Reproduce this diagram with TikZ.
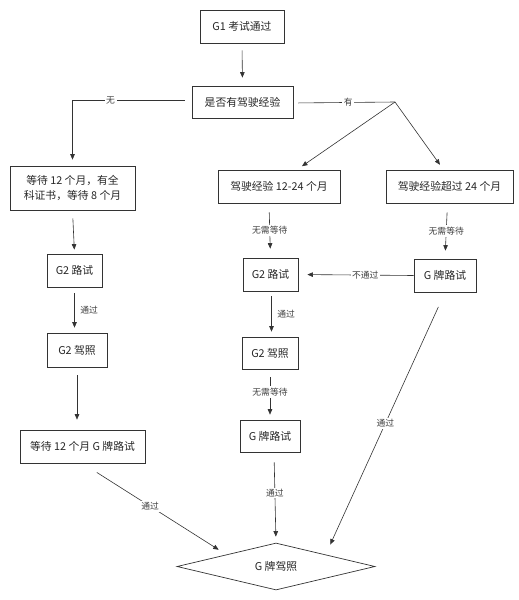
\documentclass[tikz,border=0pt]{standalone}
\usepackage{fontspec}
\setmainfont{Noto Sans CJK SC}
\usetikzlibrary{arrows.meta,shapes.geometric,calc}
\tikzset{
  box/.style={draw=black!80, line width=0.7pt, minimum height=33pt, inner sep=0pt, text=black!85, font=\fontsize{10.8}{15}\selectfont},
  lbl/.style={fill=white, inner sep=1.5pt, text=black!75, font=\fontsize{8.8}{10}\selectfont},
  arr/.style={draw=black!80, line width=0.6pt, -{Triangle[length=5.5pt,width=4.5pt]}},
  ln/.style={draw=black!80, line width=0.6pt}
}
\begin{document}
\begin{tikzpicture}[x=1pt,y=-1pt]
\useasboundingbox (0,0) rectangle (519,600);
% boxes
\node[box, minimum width=84pt] (g1) at (242,26.5) {G1 考试通过};
\node[box, minimum width=101pt, minimum height=32pt] (q) at (242.5,102) {是否有驾驶经验};
\node[box, minimum width=125pt, minimum height=44pt, align=center] (wl) at (72.5,188) {等待 12 个月，有全\\科证书，等待 8 个月};
\node[box, minimum width=55pt] (g2l) at (74.5,270.5) {G2 路试};
\node[box, minimum width=60pt, minimum height=34pt] (licl) at (77,350) {G2 驾照};
\node[box, minimum width=125pt] (wgl) at (82.5,446.5) {等待 12 个月 G 牌路试};
\node[box, minimum width=122pt] (m1) at (279,186.5) {驾驶经验 12-24 个月};
\node[box, minimum width=55pt] (g2m) at (270.5,274.5) {G2 路试};
\node[box, minimum width=56pt, minimum height=32pt] (licm) at (270,353) {G2 驾照};
\node[box, minimum width=60pt, minimum height=32pt] (gm) at (270,436) {G 牌路试};
\node[box, minimum width=127pt] (r1) at (449.5,186.5) {驾驶经验超过 24 个月};
\node[box, minimum width=62pt] (gR) at (445,275.5) {G 牌路试};
\node[diamond, draw=black!80, line width=0.7pt, aspect=4.2, inner sep=0pt, minimum width=198pt, minimum height=47pt, text=black!85, font=\fontsize{10.8}{12}\selectfont] (dia) at (276,566.5) {G 牌驾照};
\coordinate (split) at (395,102);
% connectors
\draw[arr, shorten <=7pt, shorten >=8pt] (g1.south) -- (q.north);
\draw[arr, shorten <=7pt, shorten >=6pt] ([yshift=2pt]q.west) -| node[lbl, pos=0.34] {无} (wl.north);
\draw[ln, shorten <=5pt] ([yshift=-1pt]q.east) -- node[lbl, pos=0.54] {有} (split);
\draw[arr, shorten >=6pt] (split) -- ([xshift=18pt]m1.north);
\draw[arr, shorten >=6pt] (split) -- ([xshift=-6pt]r1.north);
\draw[arr, shorten <=8pt, shorten >=4pt] (wl.south) -- (g2l.north);
\draw[arr, shorten <=6pt, shorten >=5pt] (g2l.south) -- node[lbl, fill=none, right=4pt] {通过} (g2l.south |- licl.north);
\draw[arr, shorten <=8pt, shorten >=10pt] (licl.south) -- (licl.south |- wgl.north);
\draw[arr, shorten <=17pt, shorten >=9pt] (wgl.south) -- node[lbl, pos=0.47] {通过} (dia.north west);
\draw[arr, shorten <=9pt, shorten >=9pt] ([xshift=-10pt]m1.south) -- node[lbl, pos=0.5] {无需等待} (g2m.north);
\draw[arr, shorten <=5pt, shorten >=5pt] ([xshift=1pt]g2m.south) -- node[lbl, fill=none, right=4pt] {通过} ([xshift=1pt]g2m.south |- licm.north);
\draw[arr, shorten <=8pt, shorten >=5pt] (licm.south) -- node[lbl, pos=0.45] {无需等待} (gm.north);
\draw[arr, shorten <=10pt, shorten >=6pt] ([xshift=4pt]gm.south) -- node[lbl, pos=0.45] {通过} (dia.north);
\draw[arr, shorten <=9pt, shorten >=8pt] ([xshift=-2pt]r1.south) -- node[lbl, pos=0.5] {无需等待} (gR.north);
\draw[arr, shorten >=9pt] (gR.west) -- node[lbl, pos=0.42] {不通过} (g2m.east);
\draw[arr, shorten <=16pt, shorten >=11pt] (gR.south) -- node[lbl, pos=0.5] {通过} (dia.north east);
\end{tikzpicture}
\end{document}
